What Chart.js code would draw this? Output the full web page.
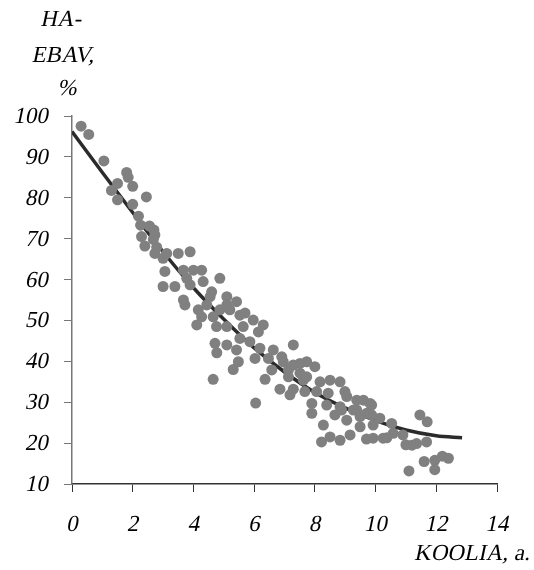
<!DOCTYPE html>
<html>
<head>
<meta charset="utf-8">
<script src="https://cdn.jsdelivr.net/npm/chart.js@4"></script>
<style>
  body { margin: 0; background: #fff; }
</style>
</head>
<body>
<canvas id="chart" width="534" height="570"></canvas>
<script>
// vanus (a) ja osakaal (%) - punktid
const ageX = [
  0.3, 0.55, 1.05, 1.8, 1.85, 1.5, 2.0, 1.3, 2.45, 1.5, 2.0, 2.19, 2.26, 2.55, 2.7, 2.29, 2.68, 2.4, 2.79, 2.73,
  2.73, 3.12, 3.5, 3.89, 3.0, 3.06, 3.67, 4.0, 4.27, 4.87, 3.0, 3.39, 3.78, 3.89, 4.32, 4.6, 3.67, 3.72, 4.55, 5.1,
  5.42, 4.44, 4.87, 5.2, 4.16, 4.27, 4.65, 5.53, 4.11, 4.76, 5.1, 5.64,
  5.1, 5.7, 5.97, 6.3, 6.14, 5.53, 5.86, 4.71, 5.1, 4.77, 5.42, 6.19, 6.63, 7.29, 6.03, 6.47, 5.48, 6.96,
  5.31, 6.58, 7.13, 7.51, 7.73, 7.13, 6.36, 7.62, 4.65, 6.85, 7.29, 6.05,
  6.91, 7.29, 8.0, 7.51, 7.73, 8.17, 8.5, 8.83, 7.18, 7.67, 8.06, 8.44, 9.05, 9.38, 9.82, 7.9, 8.39, 8.83,
  9.27, 7.9, 8.66, 8.28, 9.05, 9.49, 9.87, 9.49,
  8.99, 9.6, 9.87, 8.88, 9.38, 9.71, 10.14, 10.53, 9.92, 10.58, 9.16, 9.92, 10.25, 11.46, 11.7, 11.35, 11.68,
  10.9, 11.6, 11.95, 12.2, 12.4, 11.95, 11.1, 8.22, 8.83, 8.5, 9.7, 10.37, 11.0, 11.2
];
const shareY = [
  97.5, 95.5, 89, 86.2, 85, 83.5, 82.8, 81.8, 80.2, 79.5, 78.4, 75.5, 73.3, 73.1, 72.1, 70.5, 69.8, 68.2, 67.9, 70.9,
  66.4, 66.4, 66.4, 66.8, 65.2, 62, 62.3, 62.3, 62.3, 60.3, 58.3, 58.3, 60.3, 58.7, 59.5, 57, 55, 53.8, 55.8, 55.8,
  54.6, 53.8, 52.6, 52.6, 52.6, 50.9, 50.9, 51.3, 48.9, 48.5, 48.5, 48.5,
  53.8, 51.8, 50.1, 48.9, 47.2, 45.6, 44.8, 44.4, 44, 42.1, 42.8, 43.2, 42.8, 44, 40.7, 40.7, 39.9, 39.9,
  38, 37.9, 37.9, 39.5, 39.9, 36.2, 35.6, 35.4, 35.6, 33.2, 33.2, 29.8,
  41.1, 39.1, 38.7, 37.1, 36.2, 35, 35.4, 35, 31.8, 32.6, 32.6, 32.2, 31.4, 30.5, 29.7, 29.7, 29.3, 28.9,
  28.1, 27.3, 26.9, 24.4, 25.6, 26.5, 26.9, 24,
  32.6, 30.5, 29.3, 28.1, 28.1, 27.3, 26.1, 24.8, 24.4, 22.4, 22, 21.2, 21.2, 26.9, 25.2, 19.9, 20.3,
  22, 15.5, 15.8, 16.8, 16.3, 13.5, 13.2, 20.3, 20.7, 21.5, 21.0, 21.3, 19.6, 19.5
];

// trendijoon (loetud pildilt)
const trendX = [0, 1, 2, 3, 4, 5, 6, 7, 8, 9, 10, 11, 12, 12.85];
const trendY = [96.2, 86.2, 76.4, 66.8, 58.0, 50.3, 43.3, 37.4, 32.4, 28.6, 25.5, 23.2, 21.8, 21.3];

const xTicks = [0, 2, 4, 6, 8, 10, 12, 14];
const yTicks = [10, 20, 30, 40, 50, 60, 70, 80, 90, 100];

// kaldkiri: tavaline kiri + nihe
const fontCss = '23px "Liberation Serif", "Times New Roman", serif';

function slanted(ctx, text, x, y, align) {
    ctx.save();
    ctx.translate(x, y);
    ctx.transform(1, 0, -0.21, 1, 0, 0);
    ctx.textAlign = align;
    ctx.textBaseline = 'middle';
    ctx.fillText(text, 0, 0);
    ctx.restore();
}

const textLayer = {
    id: 'textLayer',
    afterDraw(chart) {
        const ctx = chart.ctx;
        const xs = chart.scales.x, ys = chart.scales.y;
        ctx.save();
        ctx.fillStyle = '#000';
        ctx.font = fontCss;
        xTicks.forEach(v => slanted(ctx, String(v), xs.getPixelForValue(v) + 1, 525, 'center'));
        yTicks.forEach(v => slanted(ctx, String(v), 49, ys.getPixelForValue(v) + 1, 'right'));
        slanted(ctx, 'HA-', 62, 20, 'center');
        slanted(ctx, 'EBAV,', 64, 56, 'center');
        slanted(ctx, '%', 68, 89, 'center');
        slanted(ctx, 'KOOLIA, a.', 531, 554, 'right');
        ctx.restore();
    }
};

new Chart(document.getElementById('chart').getContext('2d'), {
    type: 'scatter',
    data: {
        datasets: [
            {
                data: ageX.map((x, i) => ({ x: x, y: shareY[i] })),
                backgroundColor: '#808080',
                borderWidth: 0,
                pointRadius: 5.5,
                order: 1
            },
            {
                data: trendX.map((x, i) => ({ x: x, y: trendY[i] })),
                showLine: true,
                borderColor: '#2b2b2b',
                borderWidth: 3.5,
                pointRadius: 0,
                tension: 0.4,
                cubicInterpolationMode: 'monotone',
                order: 2
            }
        ]
    },
    options: {
        responsive: false,
        animation: false,
        layout: { padding: { top: 116, right: 37, left: 0, bottom: 0 } },
        plugins: {
            legend: { display: false },
            tooltip: { enabled: false }
        },
        scales: {
            x: {
                type: 'linear',
                min: 0,
                max: 14,
                afterFit: s => { s.height = 86; },
                afterBuildTicks: s => { s.ticks = xTicks.map(v => ({ value: v })); },
                grid: { drawOnChartArea: false, tickLength: 8, color: '#333' },
                border: { color: '#333', width: 1.5 },
                ticks: { display: false }
            },
            y: {
                type: 'linear',
                min: 10,
                max: 100,
                afterFit: s => { s.width = 72; },
                afterBuildTicks: s => { s.ticks = yTicks.map(v => ({ value: v })); },
                grid: { drawOnChartArea: false, tickLength: 8, color: '#777' },
                border: { color: '#777', width: 1.5 },
                ticks: { display: false }
            }
        }
    },
    plugins: [textLayer]
});
</script>
</body>
</html>
